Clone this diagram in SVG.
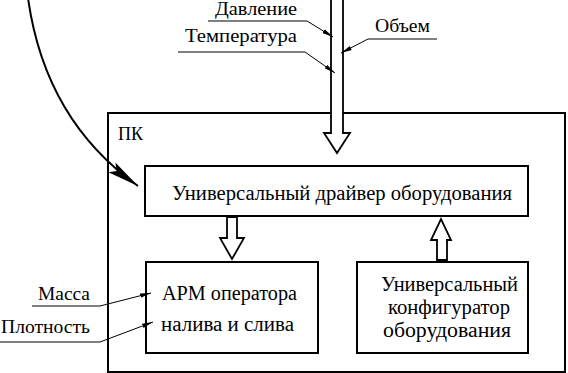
<svg xmlns="http://www.w3.org/2000/svg" width="568" height="373" viewBox="0 0 568 373">
<defs>
<style>
.box{fill:#fff;stroke:#000;stroke-width:2}
.big{fill:#fff;stroke:#000;stroke-width:1.8;stroke-linejoin:miter}
.lbl{fill:none;stroke:#000;stroke-width:1}
text{fill:#000}
</style>
<marker id="ah" markerUnits="userSpaceOnUse" markerWidth="12" markerHeight="6" refX="11" refY="3" orient="auto">
<path d="M0,0.8 L11,3 L0,5.2 z" fill="#000"/>
</marker>
<marker id="ahBig" markerUnits="userSpaceOnUse" markerWidth="34" markerHeight="14" refX="32" refY="7" orient="auto">
<path d="M0,1 L32,7 L0,13 L6,7 z" fill="#000"/>
</marker>
</defs>
<rect width="568" height="373" fill="#fff"/>
<g font-family="'Liberation Serif', 'Times New Roman', serif">
<g id="pc">
<rect class="box" x="108" y="113" width="457" height="259"/>
<text x="118" y="140" font-size="18">ПК</text>
</g>
<g id="driver">
<rect class="box" x="145" y="166" width="383" height="50"/>
<text x="172" y="200" font-size="20" textLength="340" lengthAdjust="spacingAndGlyphs">Универсальный драйвер оборудования</text>
</g>
<g id="arm">
<rect class="box" x="146" y="262" width="172" height="91"/>
<text x="162" y="300" font-size="20" textLength="135" lengthAdjust="spacingAndGlyphs">АРМ оператора</text>
<text x="161" y="331" font-size="20" textLength="133" lengthAdjust="spacingAndGlyphs">налива и слива</text>
</g>
<g id="config">
<rect class="box" x="357" y="262" width="171" height="91"/>
<text x="381" y="291" font-size="20" textLength="137" lengthAdjust="spacingAndGlyphs">Универсальный</text>
<text x="388" y="314" font-size="20" textLength="122" lengthAdjust="spacingAndGlyphs">конфигуратор</text>
<text x="383" y="337" font-size="20" textLength="128" lengthAdjust="spacingAndGlyphs">оборудования</text>
</g>
<g id="labels" font-size="18">
<text x="215" y="15" textLength="82" lengthAdjust="spacingAndGlyphs">Давление</text>
<text x="185" y="42" textLength="112" lengthAdjust="spacingAndGlyphs">Температура</text>
<text x="375" y="32" textLength="55" lengthAdjust="spacingAndGlyphs">Объем</text>
<text x="38" y="300" textLength="52" lengthAdjust="spacingAndGlyphs">Масса</text>
<text x="1" y="333" textLength="89" lengthAdjust="spacingAndGlyphs">Плотность</text>
</g>
</g>
<g id="connectors">
<polygon class="big" points="331,-3 343,-3 343,133 350,133 337,153 324,133 331,133"/>
<polygon class="big" points="227,217 237,217 237,238 244,238 232,259 220,238 227,238"/>
<polygon class="big" points="437,260 447,260 447,240 451,240 441,219 431,240 437,240"/>
<path class="lbl" d="M208,21 L307,21 L333,37" marker-end="url(#ah)"/>
<path class="lbl" d="M178,52 L305,52 L335,73" marker-end="url(#ah)"/>
<path class="lbl" d="M437,39 L368,39 L341,53" marker-end="url(#ah)"/>
<path class="lbl" d="M32,306 L100,306 L151,293" marker-end="url(#ah)"/>
<path class="lbl" d="M0,342 L100,342 L153,322" marker-end="url(#ah)"/>
<path d="M28,-2 Q45,120 138,186" fill="none" stroke="#000" stroke-width="2" marker-end="url(#ahBig)"/>
</g>
</svg>
